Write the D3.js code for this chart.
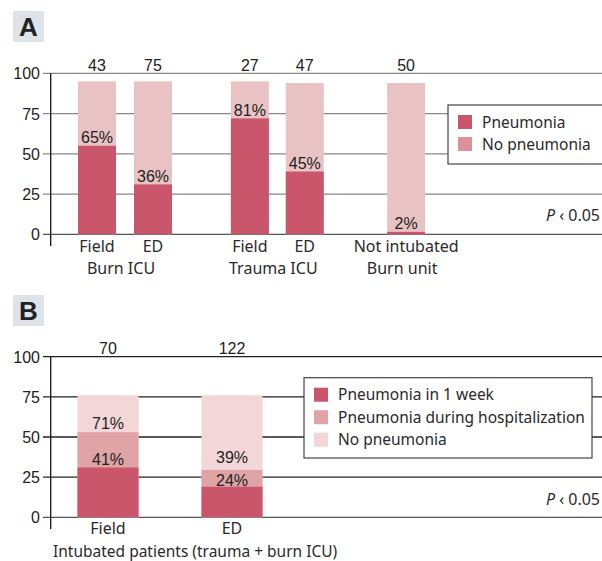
<!DOCTYPE html>
<html>
<head>
<meta charset="utf-8">
<script src="https://cdn.jsdelivr.net/npm/d3@7"></script>
<style>
  body { margin: 0; background: #fff; }
  svg { display: block; }
  .num { font-family: "Liberation Sans", Arial, sans-serif; font-size: 16px; fill: #222; }
  .lbl { font-family: "Noto Sans", sans-serif; font-size: 15.5px; fill: #2a2a2a; }
  .cat { font-size: 16px; }
</style>
</head>
<body>
<div id="chart"></div>
<script>
// ---- data ----
const aCats = ["Field", "ED", "Field", "ED", "Not intubated"];
const aGroups = ["Burn ICU", "Trauma ICU", "Burn unit"];
const aCounts = [43, 75, 27, 47, 50];
const aTotal = [95, 95, 95, 94, 94];
const aPneumonia = [55, 31, 72, 39, 1.5];
const aPct = ["65%", "36%", "81%", "45%", "2%"];
const aLegend = ["Pneumonia", "No pneumonia"];

const bCats = ["Field", "ED"];
const bGroup = "Intubated patients (trauma + burn ICU)";
const bCounts = [70, 122];
const bWeek = [31, 19];
const bHosp = [53, 29.5];   // cumulative top of "during hospitalization"
const bTotal = [76, 76];
const bPctHosp = ["71%", "39%"];
const bPctWeek = ["41%", "24%"];
const bLegend = ["Pneumonia in 1 week", "Pneumonia during hospitalization", "No pneumonia"];

const yTicks = [0, 25, 50, 75, 100];
const pText = "0.05";

const dark = "#c9566b", mid = "#e0a3a6", lightA = "#e9c3c4", lightB = "#f2d6d8", legNo = "#dc9097";

const W = 602, H = 561;
const svg = d3.select("#chart").append("svg").attr("width", W).attr("height", H);

function panelLetter(letter, y0) {
  svg.append("rect").attr("x", 13).attr("y", y0).attr("width", 31).attr("height", 31).attr("fill", "#dde3e9");
  svg.append("text").attr("x", 28.5).attr("y", y0 + 25).attr("text-anchor", "middle")
    .style("font-family", "Liberation Sans, Arial, sans-serif").style("font-weight", "bold")
    .style("font-size", "26px").style("fill", "#222").text(letter);
}

function yAxis(y, gridColor, axisBottom) {
  const g = svg.append("g");
  g.selectAll("line.grid").data(yTicks).enter().append("line")
    .attr("x1", 43).attr("x2", W).attr("y1", d => y(d)).attr("y2", d => y(d))
    .attr("stroke", d => d === 0 ? "#555" : gridColor).attr("stroke-width", 1.3);
  g.selectAll("text").data(yTicks).enter().append("text")
    .attr("class", "num").attr("x", 40).attr("y", d => y(d) + 6)
    .attr("text-anchor", "end").text(d => d);
  g.append("line").attr("x1", 50.7).attr("x2", 50.7)
    .attr("y1", y(100)).attr("y2", axisBottom).attr("stroke", "#111").attr("stroke-width", 1.3);
}

function pValue(y) {
  const t = svg.append("text").attr("class", "lbl cat").attr("x", 600).attr("y", y).attr("text-anchor", "end");
  t.append("tspan").style("font-style", "italic").text("P");
  t.append("tspan").text(" \u2039 " + pText);
}

function legend(x, y, w, h, items, colors, rowH, textX) {
  svg.append("rect").attr("x", x).attr("y", y).attr("width", w).attr("height", h)
    .attr("fill", "#fff").attr("stroke", "#444").attr("stroke-width", 1.2);
  items.forEach((d, i) => {
    svg.append("rect").attr("x", x + 10).attr("y", y + 10 + i * rowH).attr("width", 14).attr("height", 14).attr("fill", colors[i]);
    svg.append("text").attr("class", "lbl").attr("x", textX).attr("y", y + 22.5 + i * rowH).text(d);
  });
}

// ---------------- Panel A ----------------
panelLetter("A", 11);
const yA = d3.scaleLinear().domain([0, 100]).range([234.3, 73.3]);
yAxis(yA, "#888", 246);

// slot positions with gaps between groups
const slotA = [0, 1, 2.73, 3.71, 5.52];
const xA = d3.scaleLinear().domain([0, 1]).range([97, 153]);
const bwA = 38;

const gA = svg.append("g");
gA.selectAll("rect.tot").data(aTotal).enter().append("rect")
  .attr("x", (d, i) => xA(slotA[i]) - bwA / 2).attr("width", bwA)
  .attr("y", d => yA(d)).attr("height", d => yA(0) - yA(d)).attr("fill", lightA);
gA.selectAll("rect.pn").data(aPneumonia).enter().append("rect")
  .attr("x", (d, i) => xA(slotA[i]) - bwA / 2).attr("width", bwA)
  .attr("y", d => yA(d)).attr("height", d => yA(0) - yA(d)).attr("fill", dark);
gA.selectAll("text.pct").data(aPct).enter().append("text")
  .attr("class", "num").attr("text-anchor", "middle")
  .attr("x", (d, i) => xA(slotA[i])).attr("y", (d, i) => yA(aPneumonia[i]) - 2.5).text(d => d);
gA.selectAll("text.cnt").data(aCounts).enter().append("text")
  .attr("class", "num").attr("text-anchor", "middle")
  .attr("x", (d, i) => xA(slotA[i])).attr("y", 71).text(d => d);
gA.selectAll("text.cat").data(aCats).enter().append("text")
  .attr("class", "lbl cat").attr("text-anchor", "middle")
  .attr("x", (d, i) => xA(slotA[i])).attr("y", 252).text(d => d);
const groupSlots = [[0, 1], [2, 3], [4, 4]];
gA.selectAll("text.grp").data(aGroups).enter().append("text")
  .attr("class", "lbl cat").attr("text-anchor", "middle")
  .attr("x", (d, i) => (xA(slotA[groupSlots[i][0]]) + xA(slotA[groupSlots[i][1]])) / 2 - 4)
  .attr("y", 274).text(d => d);

legend(448, 105, 160, 59, aLegend, [dark, legNo], 22, 482);
pValue(221);

// ---------------- Panel B ----------------
panelLetter("B", 295);
const yB = d3.scaleLinear().domain([0, 100]).range([517.3, 356.7]);
yAxis(yB, "#222", 529);

const xB = d3.scaleBand().domain(bCats).range([46, 294]).paddingInner(0.5).paddingOuter(0.25);
const bwB = 61;
const cx = d => xB(d) + xB.bandwidth() / 2;

const gB = svg.append("g");
gB.selectAll("rect.tot").data(bCats).enter().append("rect")
  .attr("x", d => cx(d) - bwB / 2).attr("width", bwB)
  .attr("y", (d, i) => yB(bTotal[i])).attr("height", (d, i) => yB(0) - yB(bTotal[i])).attr("fill", lightB);
gB.selectAll("rect.hosp").data(bCats).enter().append("rect")
  .attr("x", d => cx(d) - bwB / 2).attr("width", bwB)
  .attr("y", (d, i) => yB(bHosp[i])).attr("height", (d, i) => yB(0) - yB(bHosp[i])).attr("fill", mid);
gB.selectAll("rect.week").data(bCats).enter().append("rect")
  .attr("x", d => cx(d) - bwB / 2).attr("width", bwB)
  .attr("y", (d, i) => yB(bWeek[i])).attr("height", (d, i) => yB(0) - yB(bWeek[i])).attr("fill", dark);
gB.selectAll("text.ph").data(bCats).enter().append("text")
  .attr("class", "num").attr("text-anchor", "middle")
  .attr("x", d => cx(d)).attr("y", (d, i) => yB(bHosp[i]) - 3 - (i === 1 ? 4 : 0)).text((d, i) => bPctHosp[i]);
gB.selectAll("text.pw").data(bCats).enter().append("text")
  .attr("class", "num").attr("text-anchor", "middle")
  .attr("x", d => cx(d)).attr("y", (d, i) => yB(bWeek[i]) - 3 + (i === 1 ? 2 : 0)).text((d, i) => bPctWeek[i]);
gB.selectAll("text.cnt").data(bCats).enter().append("text")
  .attr("class", "num").attr("text-anchor", "middle")
  .attr("x", d => cx(d)).attr("y", 354).text((d, i) => bCounts[i]);
gB.selectAll("text.cat").data(bCats).enter().append("text")
  .attr("class", "lbl cat").attr("text-anchor", "middle")
  .attr("x", d => cx(d)).attr("y", 534).text(d => d);
gB.append("text").attr("class", "lbl").attr("x", 53).attr("y", 557).text(bGroup);

legend(304, 377.7, 288, 80.3, bLegend, [dark, mid, lightB], 22.5, 338);
pValue(505);
</script>
</body>
</html>
